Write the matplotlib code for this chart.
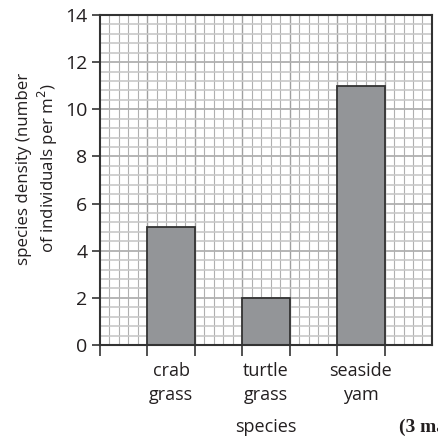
import matplotlib

matplotlib.use("Agg")
import matplotlib.pyplot as plt
import numpy as np

# data
species = ["crab\ngrass", "turtle\ngrass", "seaside\nyam"]
positions = [1.5, 3.5, 5.5]
density = [5, 2, 11]

plt.rcParams["font.family"] = ["Open Sans", "DejaVu Sans"]

fig = plt.figure(figsize=(4.39, 4.37), dpi=100)
ax = fig.add_axes([0.2278, 0.2105, 0.7562, 0.7552])

ax.set_xlim(0, 7)
ax.set_ylim(0, 14)

# graph paper grid
for x in np.arange(0.2, 7, 0.2):
    major = abs(x - round(x)) < 1e-6
    ax.axvline(x, color="#a0a0a0" if major else "#b0b0b0",
               lw=1.0 if major else 0.8, zorder=0)
for y in np.arange(0.4, 14, 0.4):
    major = abs(y / 2 - round(y / 2)) < 1e-6
    ax.axhline(y, color="#b0b0b0" if major else "#c8c8c8",
               lw=1.3 if major else 1.2, zorder=0)

ax.bar(positions, density, width=1.0, color="#939598", edgecolor="#333333",
       linewidth=1.3, zorder=3)

ax.set_yticks(range(0, 15, 2))
ax.set_xticks(range(0, 7))
ax.set_xticklabels([])
ax.tick_params(axis="y", direction="out", length=6, width=1.2,
               labelsize=14, colors="#333333", labelcolor="#231f20", pad=3)
ax.tick_params(axis="x", direction="out", length=8, width=1.2, colors="#333333")

for s in ax.spines.values():
    s.set_color("#333333")
    s.set_linewidth(1.5)
    s.set_zorder(5)

for xp, lab in zip(positions, species):
    ax.text(xp, -0.7, lab, ha="center", va="top", fontsize=13,
            color="#231f20", linespacing=1.45)

ax.set_ylabel("species density (number\nof individuals per m$^2$)",
              fontsize=12.2, color="#231f20", linespacing=1.2)
ax.yaxis.set_label_coords(-0.122, 0.535)

fig.text(266 / 439, 1 - 427 / 437, "species", ha="center", va="center",
         fontsize=13, color="#231f20")
fig.text(399 / 439, 1 - 427 / 437, "(3 marks)", ha="left", va="center",
         fontsize=14, fontweight="bold", family="Liberation Serif",
         color="#231f20")

fig.savefig("out.png", dpi=100)
